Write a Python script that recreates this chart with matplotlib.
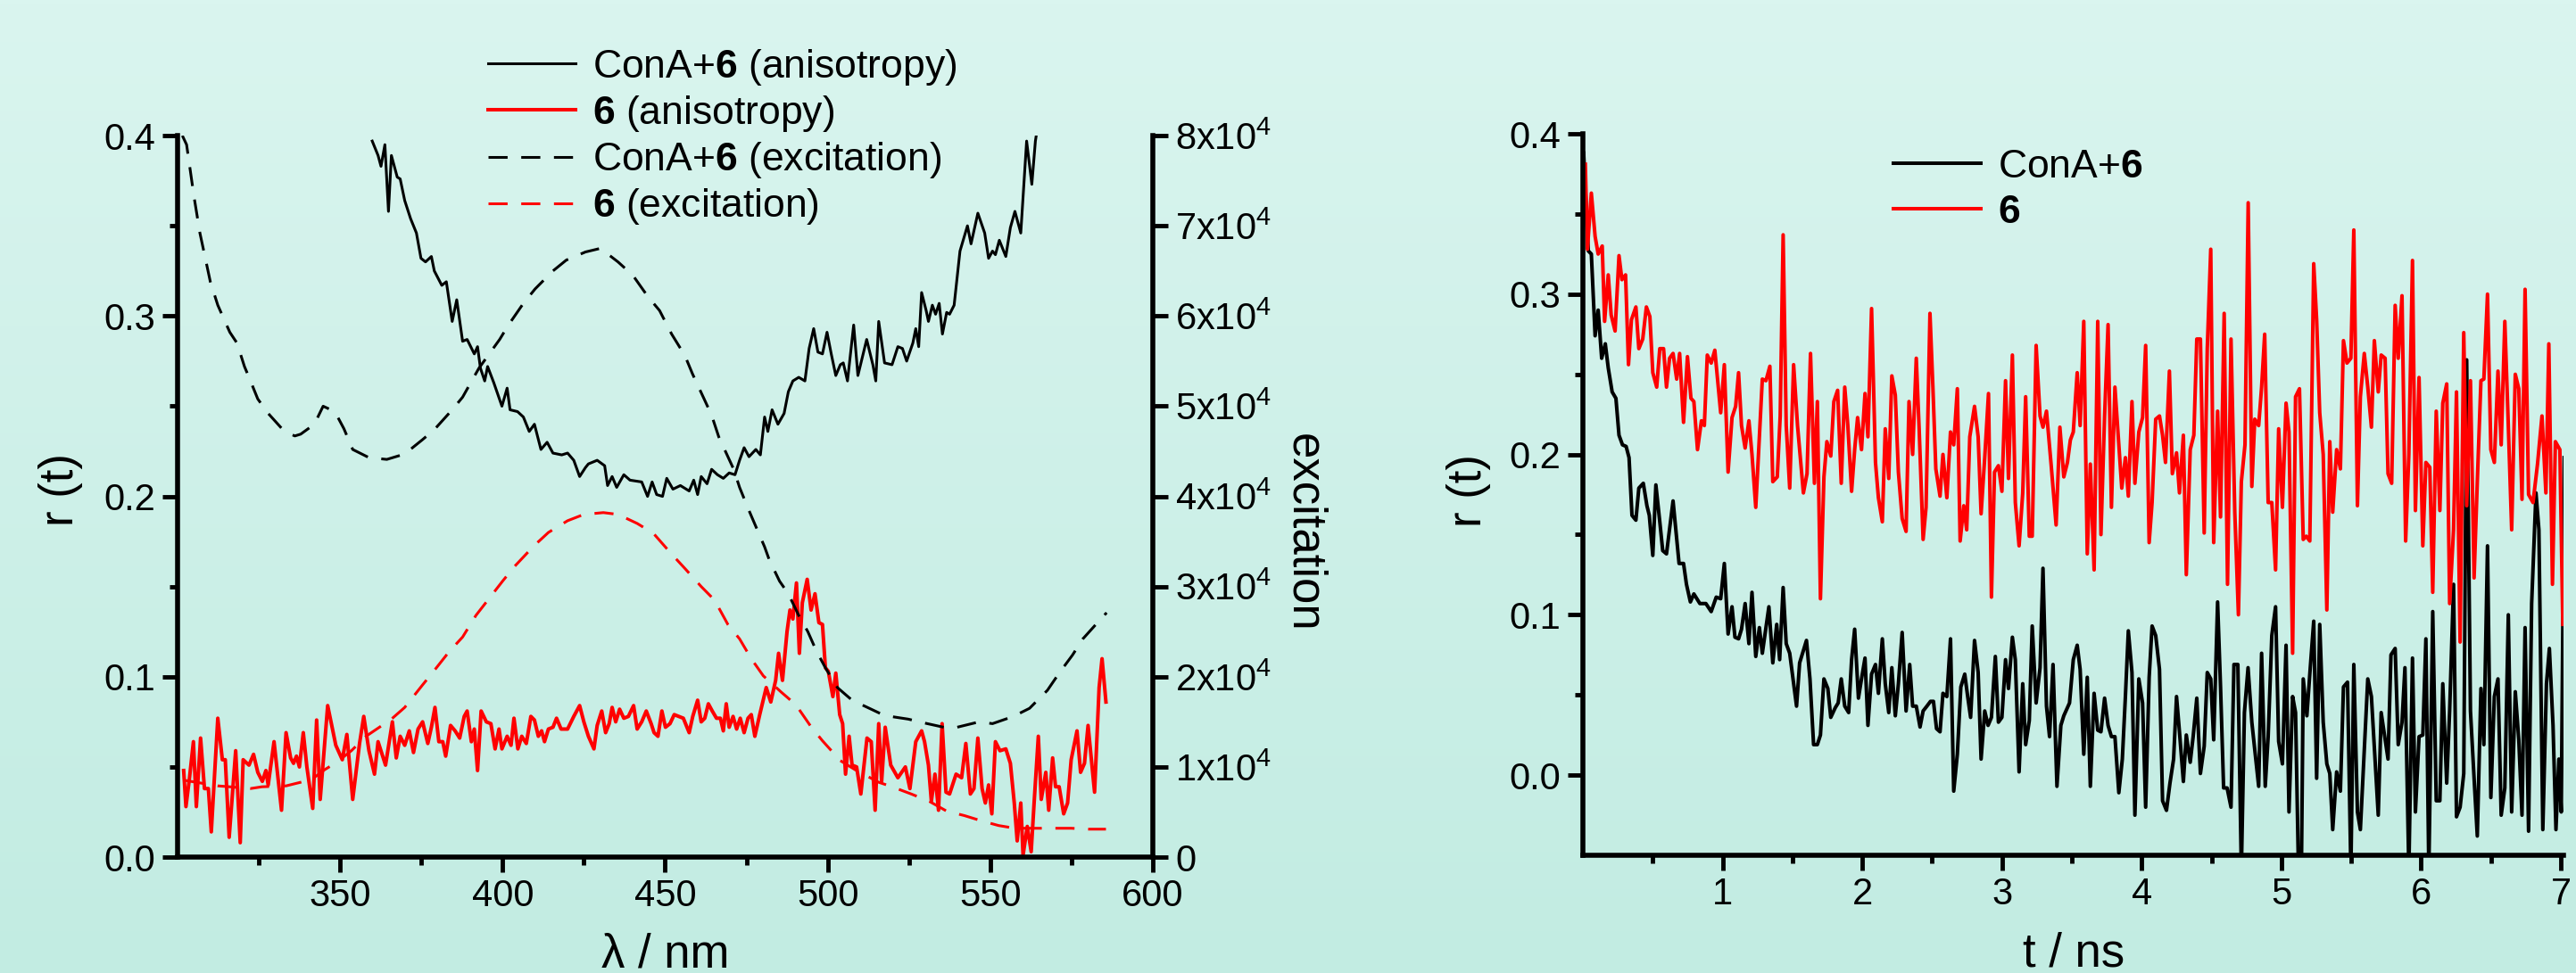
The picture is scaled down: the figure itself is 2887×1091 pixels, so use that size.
import numpy as np
import matplotlib
matplotlib.use('Agg')
import matplotlib.pyplot as plt
from matplotlib.ticker import MultipleLocator, FixedLocator, FuncFormatter
from matplotlib.colors import LinearSegmentedColormap

plt.rcParams['font.family'] = 'Liberation Sans'
plt.rcParams['mathtext.fontset'] = 'custom'
plt.rcParams['mathtext.rm'] = 'Liberation Sans'
plt.rcParams['mathtext.bf'] = 'Liberation Sans:bold'

# ---- left panel: anisotropy r(lambda) ----
lam_conA_aniso = [359.9, 361.7, 362.6, 363.8, 364.9, 365.8, 367.6, 368.5, 369.9, 371.7, 373.5, 374.9, 376.3, 378.1,
                  379.0, 381.3, 382.7, 384.5, 385.9, 387.7, 389.1, 391.3, 392.3, 393.2, 394.5, 395.4, 397.3, 399.8,
                  401.4, 402.3, 404.6, 406.4, 408.2, 409.8, 411.8, 413.7, 415.5, 418.2, 420.0, 421.9, 423.7, 425.5,
                  426.4, 429.1, 431.4, 432.3, 433.7, 435.1, 437.3, 439.2, 442.8, 444.6, 446.0, 447.4, 449.2, 450.5,
                  452.4, 454.7, 457.4, 458.8, 460.0, 461.1, 462.9, 464.3, 466.1, 467.9, 469.7, 471.5, 472.9, 474.3,
                  475.8, 477.9, 479.3, 480.6, 481.6, 482.9, 484.7, 486.6, 487.9, 489.3, 491.1, 493.0, 494.3, 495.7,
                  497.0, 498.4, 499.8, 501.1, 502.5, 503.9, 504.8, 506.1, 508.0, 509.3, 512.0, 513.9, 514.8, 515.7,
                  517.5, 519.8, 521.6, 523.0, 524.3, 526.2, 527.1, 528.0, 528.9, 530.3, 531.0, 532.2, 533.2, 534.3,
                  535.3, 536.6, 537.5, 538.9, 540.7, 543.0, 544.1, 546.2, 548.3, 549.5, 550.7, 551.6, 552.8, 554.8,
                  556.2, 557.6, 559.4, 561.2, 562.8, 563.9, 565.0]
r_conA_aniso = [0.397, 0.389, 0.383, 0.395, 0.358, 0.389, 0.377, 0.376, 0.364, 0.354, 0.346, 0.332, 0.330, 0.333,
                0.325, 0.317, 0.319, 0.297, 0.309, 0.286, 0.287, 0.279, 0.283, 0.271, 0.264, 0.272, 0.263, 0.250,
                0.260, 0.248, 0.247, 0.244, 0.236, 0.240, 0.226, 0.230, 0.224, 0.223, 0.224, 0.220, 0.211, 0.216,
                0.218, 0.220, 0.217, 0.206, 0.211, 0.205, 0.212, 0.209, 0.208, 0.200, 0.208, 0.201, 0.200, 0.210,
                0.204, 0.206, 0.203, 0.209, 0.201, 0.211, 0.207, 0.215, 0.212, 0.210, 0.213, 0.212, 0.220, 0.227,
                0.222, 0.226, 0.223, 0.244, 0.236, 0.248, 0.240, 0.246, 0.258, 0.264, 0.266, 0.264, 0.282, 0.293,
                0.280, 0.279, 0.291, 0.279, 0.267, 0.273, 0.274, 0.264, 0.295, 0.267, 0.287, 0.273, 0.264, 0.297,
                0.274, 0.273, 0.283, 0.282, 0.275, 0.285, 0.293, 0.283, 0.313, 0.303, 0.297, 0.306, 0.301, 0.307,
                0.290, 0.302, 0.301, 0.306, 0.336, 0.350, 0.340, 0.357, 0.346, 0.332, 0.336, 0.334, 0.342, 0.333,
                0.349, 0.358, 0.346, 0.397, 0.373, 0.397, 0.410]

lam_free_aniso = [301.9, 302.6, 303.7, 304.9, 305.8, 307.1, 308.3, 309.5, 310.4, 312.4, 313.8, 314.7, 315.9, 317.9,
                  319.3, 320.2, 322.0, 323.4, 324.7, 326.1, 327.2, 327.9, 329.7, 332.0, 333.4, 334.8, 335.7, 336.6,
                  337.5, 338.7, 339.8, 341.6, 342.8, 343.9, 346.2, 348.7, 350.7, 352.1, 353.9, 356.0, 357.3, 358.9,
                  360.6, 361.7, 363.1, 364.0, 366.1, 367.3, 368.5, 369.9, 371.3, 372.6, 374.0, 375.4, 377.0, 378.1,
                  379.2, 380.4, 381.6, 382.5, 384.0, 385.4, 386.8, 388.2, 389.1, 390.4, 391.3, 392.3, 393.4, 395.0,
                  396.4, 397.7, 398.9, 399.8, 401.4, 402.6, 403.5, 404.7, 405.9, 407.3, 408.7, 409.8, 411.0, 412.0,
                  412.9, 414.1, 415.5, 416.6, 418.0, 420.0, 421.9, 423.7, 425.0, 426.4, 428.1, 429.1, 430.5, 431.7,
                  432.8, 433.7, 434.8, 436.0, 437.3, 438.7, 440.3, 441.4, 442.8, 444.2, 445.7, 446.6, 447.8, 449.0,
                  450.1, 451.5, 452.8, 455.6, 457.4, 458.5, 460.0, 461.1, 462.2, 463.3, 464.5, 465.8, 467.0, 467.9,
                  468.8, 469.7, 470.9, 472.0, 473.1, 474.3, 475.5, 476.5, 477.6, 479.1, 481.1, 482.5, 484.0, 484.9,
                  486.1, 487.5, 488.4, 489.3, 490.4, 491.3, 492.2, 493.7, 494.9, 496.1, 497.3, 498.4, 499.3, 500.2,
                  501.6, 502.5, 503.7, 504.6, 505.5, 506.6, 507.5, 508.9, 510.2, 512.1, 513.4, 514.6, 515.7, 516.6,
                  517.7, 519.4, 521.6, 523.9, 525.3, 527.1, 528.9, 529.8, 531.0, 531.9, 533.0, 534.1, 535.2, 536.4,
                  537.5, 539.5, 541.2, 542.5, 543.9, 545.0, 546.2, 547.5, 548.5, 549.5, 550.5, 551.6, 553.0, 554.8,
                  556.2, 557.4, 558.3, 559.4, 560.1, 561.4, 562.6, 563.5, 564.8, 565.7, 567.1, 568.0, 569.2, 570.1,
                  571.2, 572.6, 573.8, 574.9, 576.7, 577.8, 579.0, 580.1, 582.1, 583.5, 584.4, 585.6]
r_free_aniso = [0.048, 0.028, 0.044, 0.064, 0.028, 0.066, 0.038, 0.038, 0.014, 0.077, 0.054, 0.054, 0.011, 0.059,
                0.008, 0.054, 0.051, 0.057, 0.047, 0.042, 0.048, 0.040, 0.064, 0.026, 0.069, 0.055, 0.052, 0.056,
                0.050, 0.069, 0.050, 0.027, 0.076, 0.032, 0.084, 0.062, 0.054, 0.068, 0.032, 0.063, 0.078, 0.059,
                0.046, 0.064, 0.056, 0.051, 0.075, 0.055, 0.067, 0.062, 0.070, 0.058, 0.071, 0.075, 0.063, 0.072,
                0.083, 0.064, 0.064, 0.056, 0.073, 0.070, 0.066, 0.078, 0.081, 0.064, 0.071, 0.048, 0.081, 0.075,
                0.074, 0.060, 0.071, 0.060, 0.067, 0.062, 0.077, 0.060, 0.067, 0.063, 0.078, 0.076, 0.067, 0.070,
                0.064, 0.071, 0.072, 0.077, 0.071, 0.071, 0.078, 0.084, 0.075, 0.067, 0.060, 0.073, 0.081, 0.069,
                0.074, 0.083, 0.075, 0.082, 0.077, 0.078, 0.084, 0.071, 0.075, 0.081, 0.074, 0.069, 0.067, 0.081,
                0.072, 0.074, 0.079, 0.077, 0.069, 0.078, 0.087, 0.075, 0.077, 0.085, 0.081, 0.077, 0.077, 0.070,
                0.085, 0.072, 0.078, 0.071, 0.077, 0.069, 0.077, 0.079, 0.067, 0.079, 0.094, 0.086, 0.098, 0.113,
                0.098, 0.125, 0.137, 0.132, 0.152, 0.113, 0.141, 0.154, 0.137, 0.146, 0.130, 0.129, 0.105, 0.103,
                0.089, 0.102, 0.079, 0.074, 0.046, 0.067, 0.051, 0.050, 0.035, 0.066, 0.064, 0.026, 0.074, 0.042,
                0.072, 0.051, 0.044, 0.050, 0.038, 0.064, 0.070, 0.064, 0.051, 0.031, 0.046, 0.026, 0.074, 0.036,
                0.035, 0.046, 0.044, 0.063, 0.035, 0.038, 0.066, 0.038, 0.030, 0.040, 0.024, 0.064, 0.059, 0.060,
                0.052, 0.030, 0.009, 0.030, 0.001, 0.017, 0.003, 0.030, 0.067, 0.032, 0.047, 0.026, 0.055, 0.039,
                0.039, 0.024, 0.030, 0.054, 0.070, 0.047, 0.052, 0.073, 0.036, 0.094, 0.110, 0.086]

# excitation spectra (right axis, counts)
lam_conA_exc = [301.5, 302.8, 305.1, 306.9, 308.8, 310.1, 312.4, 316.1, 318.3, 320.6, 322.0, 324.7, 327.9, 332.9,
                336.1, 337.9, 342.1, 344.8, 348.4, 351.2, 353.9, 358.9, 364.4, 369.9, 375.4, 379.0, 384.5, 387.7,
                392.7, 399.1, 401.8, 406.4, 410.0, 415.5, 419.6, 425.5, 430.1, 435.5, 440.1, 444.6, 448.3, 452.0,
                456.1, 458.4, 462.0, 464.3, 466.5, 468.8, 471.1, 472.9, 475.6, 477.5, 480.6, 482.0, 485.2, 487.9,
                491.1, 493.9, 496.6, 499.3, 503.0, 507.5, 513.4, 517.5, 524.8, 529.4, 535.7, 539.8, 546.6, 550.7,
                557.1, 562.1, 567.6, 571.2, 575.3, 578.5, 583.5, 585.8]
exc_conA = [80000, 79000, 73200, 69200, 66000, 63800, 61200, 58200, 57000, 54400, 53200, 50800, 49200, 47200,
            46700, 46900, 48000, 50000, 49400, 47500, 45200, 44300, 44100, 44700, 46300, 47400, 49600, 51000,
            54200, 57400, 59000, 61400, 63000, 65000, 66200, 67100, 67500, 66000, 64500, 62200, 60600, 58000,
            55600, 53600, 50800, 49000, 46600, 44800, 43000, 41000, 38600, 37000, 34400, 33000, 30600, 29200,
            26800, 25000, 22800, 21000, 18800, 17400, 16400, 15700, 15300, 14900, 14400, 14400, 15000, 14800,
            15600, 16500, 18500, 20400, 22400, 24200, 26200, 27100]

lam_free_exc = [302.4, 312.4, 316.0, 322.4, 326.0, 333.4, 337.9, 341.6, 345.3, 348.9, 353.5, 358.0, 365.8, 369.9,
                375.4, 379.0, 383.6, 387.7, 391.8, 395.9, 400.0, 403.6, 409.6, 414.1, 420.0, 425.0, 431.0, 435.5,
                441.4, 446.4, 451.5, 456.1, 461.1, 465.2, 469.3, 472.9, 476.5, 480.2, 485.7, 490.2, 494.8, 498.4,
                503.9, 508.4, 515.7, 519.8, 525.7, 531.2, 536.6, 542.1, 547.5, 552.6, 557.6, 563.0, 569.4, 574.9,
                580.3, 585.6]
exc_free = [8500, 7900, 7800, 7600, 7800, 7900, 8300, 8700, 9700, 10500, 11800, 13400, 15300, 16600,
            19100, 20700, 22800, 24400, 26800, 28700, 30600, 32200, 34500, 36000, 37300, 38000, 38200, 38000,
            37000, 35900, 33800, 32000, 30000, 28500, 25800, 24200, 22000, 20100, 18300, 16900, 14500, 12900,
            10700, 9700, 8300, 7800, 7000, 6200, 5100, 4600, 4000, 3500, 3200, 3200, 3200, 3200,
            3100, 3100]

# ---- right panel: time-resolved anisotropy r(t) ----
t_conA = [0.005, 0.038, 0.060, 0.087, 0.109, 0.134, 0.160, 0.181, 0.209, 0.236, 0.258, 0.283, 0.309, 0.330,
          0.351, 0.379, 0.400, 0.432, 0.458, 0.475, 0.500, 0.522, 0.550, 0.571, 0.598, 0.645, 0.688, 0.720,
          0.741, 0.769, 0.794, 0.837, 0.880, 0.918, 0.954, 0.986, 1.012, 1.039, 1.067, 1.088, 1.114, 1.135,
          1.161, 1.188, 1.210, 1.237, 1.263, 1.284, 1.331, 1.359, 1.387, 1.408, 1.433, 1.455, 1.480, 1.529,
          1.551, 1.600, 1.625, 1.651, 1.678, 1.700, 1.725, 1.753, 1.774, 1.806, 1.827, 1.849, 1.874, 1.902,
          1.923, 1.945, 1.972, 1.994, 2.019, 2.040, 2.066, 2.094, 2.115, 2.143, 2.164, 2.189, 2.211, 2.236,
          2.258, 2.285, 2.313, 2.339, 2.360, 2.386, 2.413, 2.435, 2.462, 2.488, 2.509, 2.531, 2.556, 2.577,
          2.605, 2.631, 2.654, 2.680, 2.705, 2.733, 2.754, 2.775, 2.803, 2.829, 2.850, 2.876, 2.900, 2.924,
          2.952, 2.974, 2.999, 3.025, 3.046, 3.074, 3.095, 3.122, 3.148, 3.169, 3.195, 3.216, 3.244, 3.272,
          3.293, 3.318, 3.340, 3.365, 3.393, 3.421, 3.442, 3.483, 3.510, 3.538, 3.559, 3.585, 3.610, 3.632,
          3.659, 3.685, 3.708, 3.734, 3.759, 3.783, 3.808, 3.836, 3.861, 3.883, 3.904, 3.930, 3.951, 3.979,
          4.006, 4.028, 4.053, 4.074, 4.100, 4.127, 4.149, 4.177, 4.202, 4.228, 4.249, 4.270, 4.298, 4.319,
          4.347, 4.368, 4.394, 4.420, 4.447, 4.469, 4.494, 4.515, 4.543, 4.564, 4.586, 4.611, 4.639, 4.660,
          4.688, 4.713, 4.735, 4.761, 4.788, 4.809, 4.837, 4.858, 4.884, 4.905, 4.931, 4.958, 4.980, 5.007,
          5.033, 5.054, 5.080, 5.101, 5.122, 5.143, 5.156, 5.182, 5.203, 5.231, 5.252, 5.274, 5.299, 5.325,
          5.346, 5.367, 5.395, 5.422, 5.444, 5.473, 5.497, 5.518, 5.544, 5.565, 5.618, 5.644, 5.693, 5.714,
          5.763, 5.784, 5.814, 5.836, 5.863, 5.884, 5.912, 5.938, 5.959, 5.985, 6.012, 6.034, 6.055, 6.083,
          6.108, 6.134, 6.155, 6.183, 6.204, 6.232, 6.253, 6.279, 6.305, 6.326, 6.353, 6.379, 6.402, 6.428,
          6.449, 6.475, 6.499, 6.524, 6.550, 6.573, 6.599, 6.624, 6.648, 6.674, 6.699, 6.722, 6.744, 6.769,
          6.791, 6.822, 6.843, 6.871, 6.897, 6.918, 6.944, 6.965, 6.986, 7.003, 7.024]
r_conA = [0.388, 0.327, 0.325, 0.274, 0.290, 0.260, 0.269, 0.254, 0.239, 0.235, 0.212, 0.206, 0.205, 0.198,
          0.162, 0.159, 0.179, 0.182, 0.168, 0.162, 0.137, 0.181, 0.158, 0.140, 0.138, 0.171, 0.132, 0.132,
          0.119, 0.108, 0.113, 0.107, 0.107, 0.102, 0.111, 0.110, 0.132, 0.088, 0.105, 0.086, 0.085, 0.091,
          0.107, 0.082, 0.114, 0.074, 0.092, 0.076, 0.105, 0.070, 0.094, 0.072, 0.117, 0.082, 0.076, 0.043,
          0.070, 0.084, 0.060, 0.019, 0.019, 0.025, 0.060, 0.054, 0.036, 0.042, 0.045, 0.060, 0.043, 0.039,
          0.072, 0.091, 0.048, 0.060, 0.073, 0.031, 0.063, 0.069, 0.051, 0.085, 0.057, 0.039, 0.067, 0.037,
          0.057, 0.089, 0.040, 0.069, 0.043, 0.043, 0.030, 0.040, 0.043, 0.046, 0.046, 0.029, 0.027, 0.051,
          0.049, 0.085, -0.010, 0.013, 0.055, 0.063, 0.049, 0.036, 0.084, 0.064, 0.010, 0.040, 0.031, 0.036,
          0.074, 0.033, 0.036, 0.072, 0.054, 0.086, 0.072, 0.002, 0.057, 0.019, 0.034, 0.093, 0.045, 0.067,
          0.129, 0.043, 0.024, 0.069, -0.007, 0.031, 0.037, 0.045, 0.072, 0.081, 0.066, 0.013, 0.061, -0.007,
          0.051, 0.028, 0.027, 0.048, 0.031, 0.024, 0.024, -0.011, 0.010, 0.049, 0.090, 0.064, -0.025, 0.060,
          0.045, -0.020, 0.061, 0.093, 0.087, 0.066, -0.016, -0.022, -0.005, 0.010, 0.049, 0.027, -0.004, 0.025,
          0.008, 0.024, 0.048, 0.001, 0.018, 0.064, 0.060, 0.022, 0.108, 0.055, -0.008, -0.008, -0.020, 0.069,
          0.069, -0.060, 0.039, 0.067, 0.033, 0.016, -0.007, 0.076, -0.007, 0.024, 0.087, 0.105, 0.021, 0.007,
          0.081, -0.023, 0.049, 0.039, -0.060, -0.060, 0.060, 0.037, 0.063, 0.096, -0.002, 0.094, 0.033, 0.007,
          0.001, -0.034, 0.002, -0.010, 0.055, 0.058, -0.060, 0.069, -0.023, -0.034, 0.060, 0.049, -0.025, 0.039,
          0.010, 0.075, 0.079, 0.019, 0.033, 0.067, -0.060, 0.073, -0.023, 0.024, 0.025, 0.085, -0.060, 0.102,
          -0.016, -0.016, 0.057, -0.005, 0.040, 0.119, -0.026, -0.020, 0.001, 0.259, 0.040, -0.002, -0.038, 0.054,
          0.019, 0.143, -0.014, 0.049, 0.060, -0.025, -0.008, 0.100, -0.023, 0.052, 0.022, -0.025, 0.092, -0.035,
          0.107, 0.176, 0.153, -0.034, 0.057, 0.079, 0.031, -0.034, 0.010, -0.023, 0.198]

t_free = [0.017, 0.032, 0.060, 0.087, 0.109, 0.138, 0.155, 0.181, 0.202, 0.230, 0.258, 0.279, 0.305, 0.326,
          0.347, 0.379, 0.400, 0.428, 0.454, 0.479, 0.500, 0.528, 0.550, 0.577, 0.598, 0.620, 0.645, 0.671,
          0.692, 0.720, 0.748, 0.773, 0.794, 0.820, 0.848, 0.869, 0.890, 0.918, 0.944, 0.986, 1.012, 1.039,
          1.067, 1.093, 1.114, 1.135, 1.161, 1.188, 1.210, 1.237, 1.284, 1.310, 1.338, 1.359, 1.391, 1.412,
          1.433, 1.455, 1.480, 1.508, 1.536, 1.578, 1.604, 1.629, 1.657, 1.678, 1.700, 1.725, 1.746, 1.774,
          1.796, 1.823, 1.849, 1.874, 1.896, 1.923, 1.945, 1.966, 1.994, 2.019, 2.040, 2.066, 2.094, 2.115,
          2.143, 2.164, 2.189, 2.211, 2.236, 2.258, 2.285, 2.313, 2.334, 2.360, 2.386, 2.407, 2.435, 2.456,
          2.484, 2.505, 2.526, 2.556, 2.577, 2.605, 2.631, 2.654, 2.680, 2.700, 2.726, 2.747, 2.769, 2.803,
          2.829, 2.850, 2.876, 2.903, 2.924, 2.946, 2.974, 2.999, 3.025, 3.046, 3.074, 3.095, 3.122, 3.148,
          3.169, 3.195, 3.216, 3.244, 3.272, 3.293, 3.318, 3.351, 3.387, 3.414, 3.442, 3.468, 3.489, 3.510,
          3.538, 3.559, 3.585, 3.610, 3.632, 3.659, 3.685, 3.708, 3.734, 3.759, 3.783, 3.808, 3.836, 3.857,
          3.883, 3.904, 3.930, 3.951, 3.979, 4.006, 4.028, 4.053, 4.074, 4.100, 4.127, 4.149, 4.170, 4.198,
          4.219, 4.249, 4.270, 4.298, 4.319, 4.347, 4.373, 4.394, 4.420, 4.447, 4.469, 4.494, 4.515, 4.543,
          4.564, 4.590, 4.614, 4.639, 4.666, 4.692, 4.713, 4.739, 4.762, 4.788, 4.809, 4.837, 4.858, 4.880,
          4.905, 4.931, 4.958, 4.980, 5.007, 5.033, 5.054, 5.080, 5.101, 5.129, 5.156, 5.178, 5.203, 5.231,
          5.252, 5.274, 5.299, 5.325, 5.346, 5.367, 5.395, 5.422, 5.444, 5.469, 5.497, 5.518, 5.544, 5.565,
          5.593, 5.618, 5.644, 5.665, 5.693, 5.714, 5.742, 5.763, 5.789, 5.814, 5.836, 5.863, 5.889, 5.912,
          5.938, 5.959, 5.985, 6.012, 6.034, 6.062, 6.083, 6.108, 6.134, 6.155, 6.183, 6.204, 6.232, 6.253,
          6.279, 6.305, 6.326, 6.353, 6.379, 6.402, 6.428, 6.449, 6.475, 6.499, 6.524, 6.550, 6.573, 6.599,
          6.624, 6.648, 6.674, 6.699, 6.722, 6.744, 6.769, 6.801, 6.833, 6.865, 6.893, 6.914, 6.940, 6.961,
          6.993, 7.014]
r_free = [0.381, 0.328, 0.363, 0.336, 0.325, 0.330, 0.283, 0.312, 0.287, 0.277, 0.324, 0.309, 0.312, 0.256,
          0.284, 0.292, 0.266, 0.272, 0.292, 0.286, 0.251, 0.242, 0.266, 0.266, 0.242, 0.260, 0.263, 0.247,
          0.263, 0.220, 0.261, 0.235, 0.233, 0.203, 0.221, 0.218, 0.262, 0.257, 0.265, 0.226, 0.256, 0.189,
          0.223, 0.230, 0.251, 0.218, 0.204, 0.221, 0.200, 0.167, 0.247, 0.246, 0.255, 0.183, 0.186, 0.224,
          0.337, 0.218, 0.179, 0.256, 0.218, 0.176, 0.188, 0.263, 0.182, 0.233, 0.110, 0.186, 0.208, 0.199,
          0.233, 0.240, 0.182, 0.242, 0.218, 0.177, 0.203, 0.223, 0.203, 0.238, 0.211, 0.291, 0.195, 0.173,
          0.158, 0.216, 0.185, 0.249, 0.237, 0.189, 0.160, 0.152, 0.233, 0.200, 0.260, 0.215, 0.147, 0.167,
          0.288, 0.242, 0.191, 0.174, 0.200, 0.173, 0.214, 0.206, 0.241, 0.146, 0.168, 0.153, 0.211, 0.230,
          0.211, 0.163, 0.198, 0.238, 0.111, 0.189, 0.193, 0.177, 0.246, 0.185, 0.262, 0.170, 0.143, 0.176,
          0.236, 0.149, 0.149, 0.268, 0.224, 0.217, 0.227, 0.194, 0.156, 0.217, 0.186, 0.195, 0.209, 0.214,
          0.251, 0.218, 0.283, 0.138, 0.194, 0.128, 0.283, 0.150, 0.224, 0.281, 0.167, 0.242, 0.206, 0.179,
          0.198, 0.174, 0.233, 0.182, 0.214, 0.223, 0.268, 0.145, 0.170, 0.222, 0.224, 0.212, 0.195, 0.252,
          0.188, 0.201, 0.176, 0.212, 0.125, 0.203, 0.212, 0.272, 0.272, 0.151, 0.266, 0.328, 0.145, 0.227,
          0.161, 0.288, 0.119, 0.272, 0.164, 0.100, 0.183, 0.206, 0.357, 0.180, 0.222, 0.218, 0.242, 0.275,
          0.170, 0.170, 0.128, 0.216, 0.167, 0.232, 0.214, 0.076, 0.236, 0.241, 0.147, 0.149, 0.146, 0.319,
          0.284, 0.226, 0.200, 0.103, 0.208, 0.164, 0.203, 0.191, 0.271, 0.257, 0.260, 0.340, 0.168, 0.236,
          0.263, 0.242, 0.217, 0.271, 0.239, 0.262, 0.260, 0.188, 0.182, 0.293, 0.260, 0.299, 0.146, 0.200,
          0.321, 0.165, 0.248, 0.143, 0.195, 0.192, 0.114, 0.227, 0.165, 0.232, 0.244, 0.107, 0.153, 0.239,
          0.083, 0.276, 0.168, 0.246, 0.123, 0.183, 0.246, 0.247, 0.300, 0.203, 0.195, 0.252, 0.206, 0.283,
          0.218, 0.153, 0.250, 0.241, 0.172, 0.303, 0.175, 0.170, 0.194, 0.224, 0.176, 0.269, 0.119, 0.208,
          0.203, 0.094]

BOLD6 = r'$\mathbf{6}$'


def style_axis(ax):
    ax.set_facecolor('none')
    for side in ['top', 'right']:
        ax.spines[side].set_visible(False)
    for side in ['left', 'bottom']:
        ax.spines[side].set_linewidth(4)
    ax.tick_params(which='major', direction='out', length=12, width=3.5, labelsize=30)
    ax.tick_params(which='minor', direction='out', length=6.5, width=3.5)
    ax.tick_params(axis='x', which='major', pad=5)
    ax.tick_params(axis='y', which='major', pad=6)


def draw():
    fig = plt.figure(figsize=(28.87, 10.91), dpi=100)

    # soft mint background gradient
    bg = fig.add_axes([0, 0, 1, 1], zorder=-10)
    grad = np.linspace(0, 1, 256).reshape(-1, 1)
    cmap = LinearSegmentedColormap.from_list('mint', ['#daf5ef', '#c2ece2'])
    bg.imshow(grad, aspect='auto', cmap=cmap, extent=[0, 1, 0, 1], origin='upper')
    bg.axis('off')

    # ---------- left panel ----------
    ax = fig.add_axes([0.0689, 0.1191, 0.3786, 0.7415])
    style_axis(ax)
    l1, = ax.plot(lam_conA_aniso, r_conA_aniso, color='black', lw=2.2)
    l2, = ax.plot(lam_free_aniso, r_free_aniso, color='#ff0000', lw=2.9)
    ax.set_xlim(300, 600)
    ax.set_ylim(0, 0.4)
    ax.xaxis.set_major_locator(FixedLocator([350, 400, 450, 500, 550, 600]))
    ax.xaxis.set_minor_locator(FixedLocator([325, 375, 425, 475, 525, 575]))
    ax.yaxis.set_major_locator(MultipleLocator(0.1))
    ax.yaxis.set_minor_locator(MultipleLocator(0.05))
    ax.yaxis.set_major_formatter(FuncFormatter(lambda v, p: '%.1f' % v))
    ax.set_xlabel('λ / nm', fontsize=38)
    ax.xaxis.set_label_coords(0.5, -0.104)
    ax.set_ylabel('r (t)', fontsize=38, va='center')
    ax.yaxis.set_label_coords(-0.12, 0.509)

    ax2 = ax.twinx()
    ax2.set_facecolor('none')
    for side in ['top', 'left', 'bottom']:
        ax2.spines[side].set_visible(False)
    ax2.spines['right'].set_linewidth(4)
    l3, = ax2.plot(lam_conA_exc, exc_conA, color='black', lw=2.2, ls=(0, (7, 5)))
    l4, = ax2.plot(lam_free_exc, exc_free, color='#ff0000', lw=2.2, ls=(0, (7, 5)))
    ax2.set_ylim(0, 80000)
    ax2.yaxis.set_major_locator(MultipleLocator(10000))
    ax2.yaxis.set_major_formatter(FuncFormatter(
        lambda v, p: '0' if v == 0 else '%dx10$^{4}$' % round(v / 1e4)))
    ax2.tick_params(which='major', direction='out', length=12, width=3.5, labelsize=30, pad=6)
    ax2.set_ylabel('excitation', fontsize=38, rotation=270, va='center', ha='center')
    ax2.yaxis.set_label_coords(1.155, 0.45)

    fig.legend([l1, l2, l3, l4],
               ['ConA+' + BOLD6 + ' (anisotropy)', BOLD6 + ' (anisotropy)',
                'ConA+' + BOLD6 + ' (excitation)', BOLD6 + ' (excitation)'],
               loc='upper left', bbox_to_anchor=(0.1895, 0.9515), frameon=False,
               fontsize=32, handlelength=2.2, handletextpad=0.44, labelspacing=0.16,
               borderpad=0, borderaxespad=0)

    # ---------- right panel ----------
    bx = fig.add_axes([0.6145, 0.121, 0.3807, 0.7415])
    style_axis(bx)
    m1, = bx.plot(t_conA, r_conA, color='black', lw=2.9)
    m2, = bx.plot(t_free, r_free, color='#ff0000', lw=2.9)
    bx.set_xlim(0, 7.02)
    bx.set_ylim(-0.05, 0.4)
    bx.xaxis.set_major_locator(FixedLocator([1, 2, 3, 4, 5, 6, 7]))
    bx.xaxis.set_minor_locator(FixedLocator([0.5, 1.5, 2.5, 3.5, 4.5, 5.5, 6.5]))
    bx.yaxis.set_major_locator(FixedLocator([0.0, 0.1, 0.2, 0.3, 0.4]))
    bx.yaxis.set_minor_locator(FixedLocator([0.05, 0.15, 0.25, 0.35]))
    bx.yaxis.set_major_formatter(FuncFormatter(lambda v, p: '%.1f' % v))
    bx.set_xlabel('t / ns', fontsize=38)
    bx.xaxis.set_label_coords(0.5, -0.106)
    bx.set_ylabel('r (t)', fontsize=38, va='center')
    bx.yaxis.set_label_coords(-0.1165, 0.5056)
    bx.legend([m1, m2], ['ConA+' + BOLD6, BOLD6],
              loc='upper left', bbox_to_anchor=(0.735, 0.847), bbox_transform=fig.transFigure,
              frameon=False, fontsize=32, handlelength=2.2, handletextpad=0.44, labelspacing=0.22,
              borderpad=0, borderaxespad=0)

    fig.savefig('out.png', dpi=100)


if __name__ == '__main__':
    draw()
